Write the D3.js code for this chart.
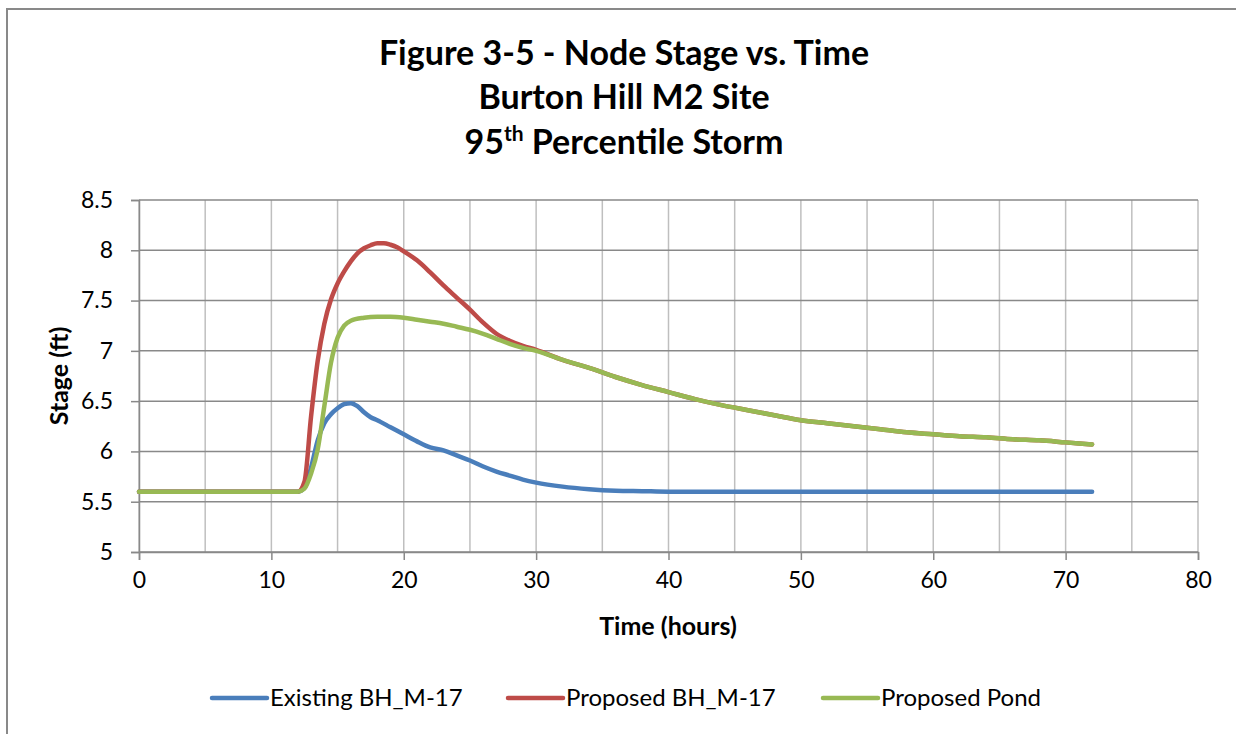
<!DOCTYPE html>
<html>
<head>
<meta charset="utf-8">
<script src="https://cdn.jsdelivr.net/npm/d3@7"></script>
<style>
  html, body { margin: 0; padding: 0; background: #fff; }
  svg { display: block; }
  text { font-family: Lato, "Open Sans", sans-serif; fill: #000; }
</style>
</head>
<body>
<svg id="chart" width="1236" height="734"></svg>
<script>
// ---- Data ----
const existingHours = [0, 12, 12.5, 13, 13.5, 14, 14.5, 15, 15.5, 16, 16.5, 17, 17.5, 18, 19, 20, 21, 22, 23, 24, 25, 26, 27, 28, 29, 30, 32, 34, 36, 38, 40, 50, 60, 72];
const existingStage = [5.6, 5.6, 5.64, 5.84, 6.11, 6.28, 6.37, 6.43, 6.47, 6.48, 6.45, 6.39, 6.34, 6.31, 6.24, 6.17, 6.1, 6.04, 6.01, 5.96, 5.91, 5.85, 5.8, 5.76, 5.72, 5.69, 5.65, 5.625, 5.61, 5.605, 5.6, 5.6, 5.6, 5.6];

const proposedHours = [0, 12, 12.5, 13, 13.5, 14, 14.5, 15, 15.5, 16, 16.5, 17, 17.5, 18, 18.5, 19, 19.5, 20, 21, 22, 23, 24, 25, 26, 27, 28, 29, 30, 32, 34, 36, 38, 40, 42, 44, 46, 48, 50, 52, 54, 56, 58, 60, 62, 64, 66, 68, 70, 72];
const proposedStage = [5.6, 5.6, 5.7, 6.35, 6.9, 7.27, 7.51, 7.67, 7.79, 7.89, 7.97, 8.02, 8.05, 8.07, 8.07, 8.055, 8.03, 7.99, 7.9, 7.78, 7.65, 7.53, 7.41, 7.28, 7.17, 7.1, 7.05, 7.01, 6.91, 6.83, 6.74, 6.66, 6.59, 6.52, 6.46, 6.41, 6.36, 6.31, 6.28, 6.25, 6.22, 6.19, 6.17, 6.15, 6.14, 6.12, 6.11, 6.09, 6.07];

const pondHours = [0, 12, 12.5, 13, 13.5, 14, 14.5, 15, 15.5, 16, 17, 18, 19, 20, 21, 22, 23, 24, 25, 26, 27, 28, 29, 30, 32, 34, 36, 38, 40, 42, 44, 46, 48, 50, 52, 54, 56, 58, 60, 62, 64, 66, 68, 70, 72];
const pondStage = [5.6, 5.6, 5.63, 5.78, 6.02, 6.45, 6.88, 7.13, 7.25, 7.3, 7.33, 7.34, 7.34, 7.33, 7.31, 7.29, 7.27, 7.24, 7.21, 7.17, 7.12, 7.07, 7.03, 7.0, 6.91, 6.83, 6.74, 6.66, 6.59, 6.52, 6.46, 6.41, 6.36, 6.31, 6.28, 6.25, 6.22, 6.19, 6.17, 6.15, 6.14, 6.12, 6.11, 6.09, 6.07];

const seriesNames = ["Existing BH_M-17", "Proposed BH_M-17", "Proposed Pond"];
const seriesColors = ["#4a7ebb", "#be4b48", "#98b954"];
const xTicks = [0, 10, 20, 30, 40, 50, 60, 70, 80];
const xGrid = [0, 5, 10, 15, 20, 25, 30, 35, 40, 45, 50, 55, 60, 65, 70, 75, 80];
const yTicks = [5, 5.5, 6, 6.5, 7, 7.5, 8, 8.5];
const titleLines = ["Figure 3-5 - Node Stage vs. Time", "Burton Hill M2 Site"];

// ---- Drawing ----
const svg = d3.select("#chart");
const plot = { left: 139, right: 1198, top: 200, bottom: 552 };

const x = d3.scaleLinear().domain([0, 80]).range([plot.left, plot.right]);
const y = d3.scaleLinear().domain([5, 8.5]).range([plot.bottom, plot.top]);

// outer chart border
svg.append("rect")
  .attr("x", 7).attr("y", 9).attr("width", 1260).attr("height", 760)
  .attr("fill", "none").attr("stroke", "#898989").attr("stroke-width", 2);

// vertical gridlines
svg.append("g").selectAll("line").data(xGrid).join("line")
  .attr("x1", d => x(d)).attr("x2", d => x(d))
  .attr("y1", plot.top).attr("y2", plot.bottom)
  .attr("stroke", "#bfbfbf").attr("stroke-width", 1.5);

// horizontal gridlines
svg.append("g").selectAll("line").data(yTicks).join("line")
  .attr("x1", plot.left).attr("x2", plot.right)
  .attr("y1", d => y(d)).attr("y2", d => y(d))
  .attr("stroke", "#898989").attr("stroke-width", 1.5);

// axes
const xAxis = d3.axisBottom(x).tickValues(xTicks).tickSize(8).tickPadding(12).tickFormat(d3.format("d"));
const gx = svg.append("g").attr("transform", `translate(0,${plot.bottom})`).call(xAxis);
gx.select(".domain").attr("stroke", "#898989").attr("stroke-width", 1.5);
gx.selectAll(".tick line").attr("stroke", "#898989").attr("stroke-width", 1.5);
gx.selectAll(".tick text").attr("font-family", "Lato").attr("font-size", 23).attr("fill", "#000");

const yAxis = d3.axisLeft(y).tickValues(yTicks).tickSize(8).tickPadding(18).tickFormat(d => d3.format("")(d));
const gy = svg.append("g").attr("transform", `translate(${plot.left},0)`).call(yAxis);
gy.select(".domain").attr("stroke", "#898989").attr("stroke-width", 1.5);
gy.selectAll(".tick line").attr("stroke", "#898989").attr("stroke-width", 1.5);
gy.selectAll(".tick text").attr("font-family", "Lato").attr("font-size", 23).attr("fill", "#000");

// series lines
const allSeries = [
  { hours: existingHours, stage: existingStage },
  { hours: proposedHours, stage: proposedStage },
  { hours: pondHours, stage: pondStage }
];
const line = d3.line().x(d => x(d[0])).y(d => y(d[1])).curve(d3.curveMonotoneX);
allSeries.forEach((s, i) => {
  const pts = s.hours.map((h, j) => [h, s.stage[j]]);
  svg.append("path").datum(pts)
    .attr("d", line)
    .attr("fill", "none")
    .attr("stroke", seriesColors[i])
    .attr("stroke-width", 4.5)
    .attr("stroke-linecap", "round")
    .attr("stroke-linejoin", "round");
});

// title
const title = svg.append("g").attr("font-weight", "bold").attr("font-size", 34).attr("text-anchor", "middle");
title.append("text").attr("x", 624).attr("y", 65).text(titleLines[0]);
title.append("text").attr("x", 624).attr("y", 109).text(titleLines[1]);
const t3 = title.append("text").attr("x", 624).attr("y", 154);
t3.append("tspan").text("95");
t3.append("tspan").attr("font-size", 21).attr("dy", -13).text("th");
t3.append("tspan").attr("dy", 13).text(" Percentile Storm");

// axis titles
svg.append("text").attr("x", 668).attr("y", 635).attr("text-anchor", "middle")
  .attr("font-weight", "bold").attr("font-size", 25).text("Time (hours)");
svg.append("text").attr("transform", "translate(68,376) rotate(-90)").attr("text-anchor", "middle")
  .attr("font-weight", "bold").attr("font-size", 25).text("Stage (ft)");

// legend
const legendX = [212, 508, 823];
const leg = svg.append("g");
seriesNames.forEach((name, i) => {
  const g = leg.append("g").attr("transform", `translate(${legendX[i]},698)`);
  g.append("line").attr("x1", 0).attr("x2", 55).attr("y1", 0).attr("y2", 0)
    .attr("stroke", seriesColors[i]).attr("stroke-width", 4.5).attr("stroke-linecap", "round");
  g.append("text").attr("x", 58).attr("y", 8).attr("font-size", 24).text(name);
});
</script>
</body>
</html>
